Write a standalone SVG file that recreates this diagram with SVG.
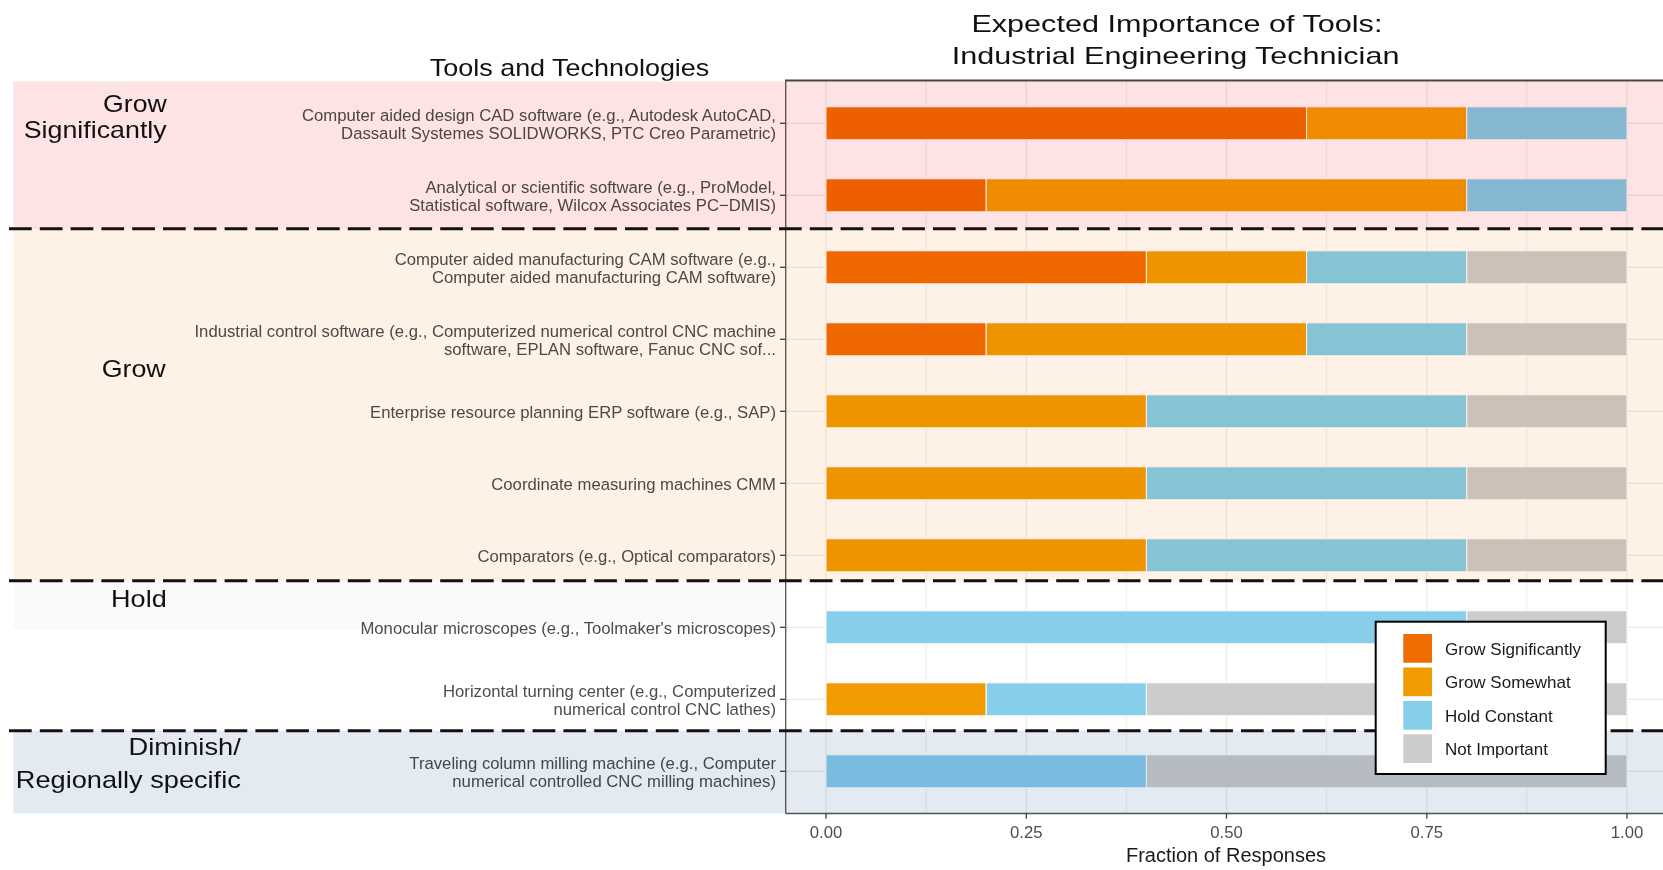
<svg xmlns="http://www.w3.org/2000/svg" width="1663" height="870" viewBox="0 0 1663 870">
<style>
.f{font-family:"Liberation Sans",Arial,Helvetica,sans-serif}
.lbl{font-size:16.7px;fill:#4d4d4d;text-anchor:end}
.band-lbl{font-size:24px;fill:#111;text-anchor:end}
.title{font-size:24px;fill:#111}
.tick{font-size:16.7px;fill:#4d4d4d;text-anchor:middle}
.leg{font-size:17px;fill:#1a1a1a}
.gs{fill:#ef6c00}.gw{fill:#f09c00}.hc{fill:#87ceeb}.ni{fill:#cccccc}
.seg rect{stroke:#ffffff;stroke-width:1}
.grid line{stroke:#ebebeb;stroke-width:1.2}
.grid .minor{stroke-width:0.8}
.band{mix-blend-mode:multiply}
.dash{stroke:#141010;stroke-width:3;stroke-dasharray:22.7 8.1;fill:none}
.tk{stroke:#333;stroke-width:1.2}
</style>
<rect x="0" y="0" width="1663" height="870" fill="#ffffff"/>

<g id="panel">
  <rect x="785.7" y="80.6" width="900" height="732.9" fill="#ffffff"/>
  <g class="grid">
    <line class="minor" x1="926.1" y1="80.6" x2="926.1" y2="813.5"/>
    <line class="minor" x1="1126.4" y1="80.6" x2="1126.4" y2="813.5"/>
    <line class="minor" x1="1326.6" y1="80.6" x2="1326.6" y2="813.5"/>
    <line class="minor" x1="1526.9" y1="80.6" x2="1526.9" y2="813.5"/>
    <line x1="826" y1="80.6" x2="826" y2="813.5"/>
    <line x1="1026.3" y1="80.6" x2="1026.3" y2="813.5"/>
    <line x1="1226.5" y1="80.6" x2="1226.5" y2="813.5"/>
    <line x1="1426.8" y1="80.6" x2="1426.8" y2="813.5"/>
    <line x1="1627" y1="80.6" x2="1627" y2="813.5"/>
    <line x1="785.7" y1="123.3" x2="1663" y2="123.3"/>
    <line x1="785.7" y1="195.3" x2="1663" y2="195.3"/>
    <line x1="785.7" y1="267.3" x2="1663" y2="267.3"/>
    <line x1="785.7" y1="339.3" x2="1663" y2="339.3"/>
    <line x1="785.7" y1="411.3" x2="1663" y2="411.3"/>
    <line x1="785.7" y1="483.3" x2="1663" y2="483.3"/>
    <line x1="785.7" y1="555.3" x2="1663" y2="555.3"/>
    <line x1="785.7" y1="627.3" x2="1663" y2="627.3"/>
    <line x1="785.7" y1="699.3" x2="1663" y2="699.3"/>
    <line x1="785.7" y1="771.3" x2="1663" y2="771.3"/>
  </g>
</g>

<g id="bars" class="seg">
  <g id="bar-cad">
    <rect class="gs" x="826" y="106.8" width="480.6" height="33"/>
    <rect class="gw" x="1306.6" y="106.8" width="160.2" height="33"/>
    <rect class="hc" x="1466.8" y="106.8" width="160.2" height="33"/>
  </g>
  <g id="bar-analytical">
    <rect class="gs" x="826" y="178.8" width="160.2" height="33"/>
    <rect class="gw" x="986.2" y="178.8" width="480.6" height="33"/>
    <rect class="hc" x="1466.8" y="178.8" width="160.2" height="33"/>
  </g>
  <g id="bar-cam">
    <rect class="gs" x="826" y="250.8" width="320.4" height="33"/>
    <rect class="gw" x="1146.4" y="250.8" width="160.2" height="33"/>
    <rect class="hc" x="1306.6" y="250.8" width="160.2" height="33"/>
    <rect class="ni" x="1466.8" y="250.8" width="160.2" height="33"/>
  </g>
  <g id="bar-industrial">
    <rect class="gs" x="826" y="322.8" width="160.2" height="33"/>
    <rect class="gw" x="986.2" y="322.8" width="320.4" height="33"/>
    <rect class="hc" x="1306.6" y="322.8" width="160.2" height="33"/>
    <rect class="ni" x="1466.8" y="322.8" width="160.2" height="33"/>
  </g>
  <g id="bar-erp">
    <rect class="gw" x="826" y="394.8" width="320.4" height="33"/>
    <rect class="hc" x="1146.4" y="394.8" width="320.4" height="33"/>
    <rect class="ni" x="1466.8" y="394.8" width="160.2" height="33"/>
  </g>
  <g id="bar-cmm">
    <rect class="gw" x="826" y="466.8" width="320.4" height="33"/>
    <rect class="hc" x="1146.4" y="466.8" width="320.4" height="33"/>
    <rect class="ni" x="1466.8" y="466.8" width="160.2" height="33"/>
  </g>
  <g id="bar-comparators">
    <rect class="gw" x="826" y="538.8" width="320.4" height="33"/>
    <rect class="hc" x="1146.4" y="538.8" width="320.4" height="33"/>
    <rect class="ni" x="1466.8" y="538.8" width="160.2" height="33"/>
  </g>
  <g id="bar-monocular">
    <rect class="hc" x="826" y="610.8" width="640.8" height="33"/>
    <rect class="ni" x="1466.8" y="610.8" width="160.2" height="33"/>
  </g>
  <g id="bar-horizontal">
    <rect class="gw" x="826" y="682.8" width="160.2" height="33"/>
    <rect class="hc" x="986.2" y="682.8" width="160.2" height="33"/>
    <rect class="ni" x="1146.4" y="682.8" width="480.6" height="33"/>
  </g>
  <g id="bar-traveling">
    <rect class="hc" x="826" y="754.8" width="320.4" height="33"/>
    <rect class="ni" x="1146.4" y="754.8" width="480.6" height="33"/>
  </g>
</g>

<g id="panel-border" fill="none">
  <line x1="785.7" y1="80.6" x2="785.7" y2="813.5" stroke="#555" stroke-width="1.3"/>
  <line x1="785.7" y1="813.5" x2="1663" y2="813.5" stroke="#555" stroke-width="1.3"/>
  <line x1="785" y1="80.6" x2="1663" y2="80.6" stroke="#4a4444" stroke-width="2"/>
</g>

<g id="y-ticks" class="tk">
  <line x1="780" y1="123.3" x2="785" y2="123.3"/>
  <line x1="780" y1="195.3" x2="785" y2="195.3"/>
  <line x1="780" y1="267.3" x2="785" y2="267.3"/>
  <line x1="780" y1="339.3" x2="785" y2="339.3"/>
  <line x1="780" y1="411.3" x2="785" y2="411.3"/>
  <line x1="780" y1="483.3" x2="785" y2="483.3"/>
  <line x1="780" y1="555.3" x2="785" y2="555.3"/>
  <line x1="780" y1="627.3" x2="785" y2="627.3"/>
  <line x1="780" y1="699.3" x2="785" y2="699.3"/>
  <line x1="780" y1="771.3" x2="785" y2="771.3"/>
</g>

<g id="y-labels" class="f lbl">
  <text x="776" y="120.6">Computer aided design CAD software (e.g., Autodesk AutoCAD,</text>
  <text x="776" y="139">Dassault Systemes SOLIDWORKS, PTC Creo Parametric)</text>
  <text x="776" y="192.6">Analytical or scientific software (e.g., ProModel,</text>
  <text x="776" y="211">Statistical software, Wilcox Associates PC−DMIS)</text>
  <text x="776" y="264.6">Computer aided manufacturing CAM software (e.g.,</text>
  <text x="776" y="283">Computer aided manufacturing CAM software)</text>
  <text x="776" y="336.6">Industrial control software (e.g., Computerized numerical control CNC machine</text>
  <text x="776" y="355">software, EPLAN software, Fanuc CNC sof...</text>
  <text x="776" y="417.8">Enterprise resource planning ERP software (e.g., SAP)</text>
  <text x="776" y="489.8">Coordinate measuring machines CMM</text>
  <text x="776" y="561.8">Comparators (e.g., Optical comparators)</text>
  <text x="776" y="633.8">Monocular microscopes (e.g., Toolmaker's microscopes)</text>
  <text x="776" y="696.6">Horizontal turning center (e.g., Computerized</text>
  <text x="776" y="715">numerical control CNC lathes)</text>
  <text x="776" y="768.6">Traveling column milling machine (e.g., Computer</text>
  <text x="776" y="787">numerical controlled CNC milling machines)</text>
</g>

<g id="bands">
  <rect class="band" x="13.3" y="81.5" width="1650" height="147.2" fill="#fde3e3"/>
  <rect class="band" x="13.3" y="228.7" width="1650" height="352" fill="#fef2e7"/>
  <rect class="band" x="13.3" y="580.7" width="772" height="48.5" fill="#fafafa"/>
  <rect class="band" x="13.3" y="730.7" width="1650" height="82.8" fill="#e3eaf2"/>
</g>

<g id="band-labels" class="f band-lbl">
  <text x="166.7" y="111.7" textLength="63.6" lengthAdjust="spacingAndGlyphs">Grow</text>
  <text x="166.7" y="138.3" textLength="143" lengthAdjust="spacingAndGlyphs">Significantly</text>
  <text x="165.7" y="376.7" textLength="64" lengthAdjust="spacingAndGlyphs">Grow</text>
  <text x="166.7" y="607.3" textLength="55.6" lengthAdjust="spacingAndGlyphs">Hold</text>
  <text x="240.8" y="755" textLength="112.2" lengthAdjust="spacingAndGlyphs">Diminish/</text>
  <text x="240.8" y="788.3" textLength="225" lengthAdjust="spacingAndGlyphs">Regionally specific</text>
</g>

<g id="dividers" class="dash">
  <line x1="9" y1="228.7" x2="1663" y2="228.7"/>
  <line x1="9" y1="580.7" x2="1663" y2="580.7"/>
  <line x1="9" y1="730.7" x2="1663" y2="730.7"/>
</g>

<g id="legend">
  <rect x="1375.7" y="621.7" width="230" height="152.3" fill="#ffffff" stroke="#000" stroke-width="2"/>
  <rect class="gs" x="1403.3" y="634" width="28.7" height="28.7"/>
  <rect class="gw" x="1403.3" y="667.5" width="28.7" height="28.7"/>
  <rect class="hc" x="1403.3" y="701" width="28.7" height="28.7"/>
  <rect class="ni" x="1403.3" y="734.3" width="28.7" height="28.7"/>
  <g class="f leg">
    <text x="1445" y="654.5">Grow Significantly</text>
    <text x="1445" y="688">Grow Somewhat</text>
    <text x="1445" y="721.5">Hold Constant</text>
    <text x="1445" y="754.8">Not Important</text>
  </g>
</g>

<g id="x-axis">
  <g class="tk">
    <line x1="826" y1="813.5" x2="826" y2="818.7"/>
    <line x1="1026.3" y1="813.5" x2="1026.3" y2="818.7"/>
    <line x1="1226.5" y1="813.5" x2="1226.5" y2="818.7"/>
    <line x1="1426.8" y1="813.5" x2="1426.8" y2="818.7"/>
    <line x1="1627" y1="813.5" x2="1627" y2="818.7"/>
  </g>
  <g class="f tick">
    <text x="826" y="838.3">0.00</text>
    <text x="1026.3" y="838.3">0.25</text>
    <text x="1226.5" y="838.3">0.50</text>
    <text x="1426.8" y="838.3">0.75</text>
    <text x="1627" y="838.3">1.00</text>
  </g>
  <text class="f" x="1226" y="861.7" font-size="20" fill="#1a1a1a" text-anchor="middle">Fraction of Responses</text>
</g>

<g id="titles" class="f title">
  <text x="971.4" y="31.7" textLength="411" lengthAdjust="spacingAndGlyphs">Expected Importance of Tools:</text>
  <text x="951.7" y="64" textLength="447.7" lengthAdjust="spacingAndGlyphs">Industrial Engineering Technician</text>
  <text x="429.8" y="76" textLength="279.5" lengthAdjust="spacingAndGlyphs">Tools and Technologies</text>
</g>
</svg>
